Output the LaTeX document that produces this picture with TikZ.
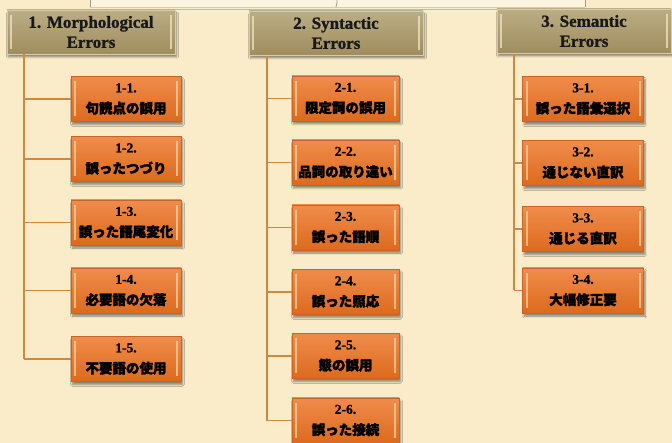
\documentclass[tikz,border=0pt]{standalone}
\usepackage{fontspec}
\setmainfont{Liberation Serif}[BoldFont={Liberation Serif Bold}, BoldFeatures={FakeBold=1.2}]
\newfontfamily\jp{Noto Sans CJK JP}[FakeBold=2.2]
\usetikzlibrary{shadows.blur}
\definecolor{bg}{HTML}{FAECC9}
\definecolor{band}{HTML}{FDF4E0}
\definecolor{bandedge}{HTML}{A39A82}
\definecolor{topline}{HTML}{F2B45A}
\definecolor{conn}{HTML}{CF8840}
\definecolor{subtop}{HTML}{F08C4C}
\definecolor{submid}{HTML}{E8731F}
\definecolor{subbot}{HTML}{DC6A1C}
\definecolor{subedge}{HTML}{C86428}
\definecolor{hdrtop}{HTML}{BBAD84}
\definecolor{hdrmid}{HTML}{AD9C6E}
\definecolor{hdrbot}{HTML}{9F8D5E}
\definecolor{hdredge}{HTML}{D8CCAA}
\definecolor{hl}{HTML}{FBD6A4}
\definecolor{hdrhl}{HTML}{F4EAC8}
\tikzset{
  subbox/.style={draw=subedge, line width=0.5pt, minimum width=#1, minimum height=45pt,
    inner sep=0pt, align=center, top color=subtop, middle color=submid, bottom color=subbot,
    blur shadow={shadow xshift=1.5pt, shadow yshift=-3pt, shadow blur steps=6, shadow opacity=45},
    path picture={
      \fill[hl, opacity=0.7] ([xshift=3pt,yshift=-5pt]path picture bounding box.north west) rectangle ([xshift=5pt,yshift=5pt]path picture bounding box.south west);
      \fill[hl, opacity=0.7] ([xshift=-3pt,yshift=-5pt]path picture bounding box.north east) rectangle ([xshift=-5pt,yshift=5pt]path picture bounding box.south east);
    },
    text=black, font=\bfseries\fontsize{13.5}{21}\selectfont},
  hdrbox/.style={draw=hdredge, line width=0.6pt, minimum width=#1, minimum height=44pt,
    inner sep=0pt, align=center, top color=hdrtop, middle color=hdrmid, bottom color=hdrbot,
    blur shadow={shadow xshift=1.5pt, shadow yshift=-3pt, shadow blur steps=6, shadow opacity=45},
    path picture={
      \fill[hdrhl, opacity=0.7] ([xshift=3pt,yshift=-5pt]path picture bounding box.north west) rectangle ([xshift=5pt,yshift=5pt]path picture bounding box.south west);
      \fill[hdrhl, opacity=0.7] ([xshift=-3pt,yshift=-5pt]path picture bounding box.north east) rectangle ([xshift=-5pt,yshift=5pt]path picture bounding box.south east);
    },
    text=black!90, font=\bfseries\fontsize{17}{20}\selectfont},
  trunk/.style={draw=conn, line width=2pt},
  branch/.style={draw=conn, line width=1.6pt},
}
\newcommand{\jl}[1]{{\jp\fontsize{13.5}{21}\selectfont #1}}
\begin{document}
\begin{tikzpicture}[x=1pt,y=-1pt]
\useasboundingbox (0,0) rectangle (672,443);
\fill[bg] (0,0) rectangle (672,443);
% top band (cut-off parent)
\fill[band] (90,-1) rectangle (585,7);
\draw[bandedge, line width=0.8pt] (90,-1) -- (90,7);
\draw[bandedge, line width=0.8pt] (585,-1) -- (585,7);
\draw[hdredge, line width=0.6pt] (90,7) -- (585,7);
\draw[bandedge, line width=0.8pt] (337,-1) -- (337,3) -- (336,7);
\draw[topline, line width=1pt] (175,9.5) -- (497,9.5);
% headers
\node[hdrbox=168] (h1) at (91,32) {1. Morphological\\Errors};
\node[hdrbox=174] (h2) at (336,33) {2. Syntactic\\Errors};
\node[hdrbox=174] (h3) at (584,31) {3. Semantic\\Errors};
% column 1
\coordinate (t1) at (24,54);
\coordinate (e1) at (24,359);
\draw[trunk] (t1) -- (e1);
\node[subbox=110] (a1) at (126,99) {1-1.\\\jl{句読点の誤用}};
\node[subbox=110] (a2) at (126,159) {1-2.\\\jl{誤ったつづり}};
\node[subbox=110] (a3) at (126,222.5) {1-3.\\\jl{誤った語尾変化}};
\node[subbox=110] (a4) at (126,290.5) {1-4.\\\jl{必要語の欠落}};
\node[subbox=110] (a5) at (126,359) {1-5.\\\jl{不要語の使用}};
\foreach \n in {a1,a2,a3,a4,a5} \draw[branch] (\n.west -| t1) -- (\n.west);
% column 2
\coordinate (t2) at (267,56);
\coordinate (e2) at (267,420.5);
\draw[trunk] (t2) -- (e2);
\node[subbox=107] (b1) at (345.5,98.5) {2-1.\\\jl{限定詞の誤用}};
\node[subbox=107] (b2) at (345.5,162.5) {2-2.\\\jl{品詞の取り違い}};
\node[subbox=107] (b3) at (345.5,227.5) {2-3.\\\jl{誤った語順}};
\node[subbox=107] (b4) at (345.5,292) {2-4.\\\jl{誤った照応}};
\node[subbox=107] (b5) at (345.5,356) {2-5.\\\jl{態の誤用}};
\node[subbox=107] (b6) at (345.5,420.5) {2-6.\\\jl{誤った接続}};
\foreach \n in {b1,b2,b3,b4,b5,b6} \draw[branch] (\n.west -| t2) -- (\n.west);
% column 3
\coordinate (t3) at (514,54);
\coordinate (e3) at (514,290.5);
\draw[trunk] (t3) -- (e3);
\node[subbox=121] (c1) at (583,99) {3-1.\\\jl{誤った語彙選択}};
\node[subbox=121] (c2) at (583,163) {3-2.\\\jl{通じない直訳}};
\node[subbox=121] (c3) at (583,229) {3-3.\\\jl{通じる直訳}};
\node[subbox=121] (c4) at (583,290.5) {3-4.\\\jl{大幅修正要}};
\foreach \n in {c1,c2,c3,c4} \draw[branch] (\n.west -| t3) -- (\n.west);
\end{tikzpicture}
\end{document}
